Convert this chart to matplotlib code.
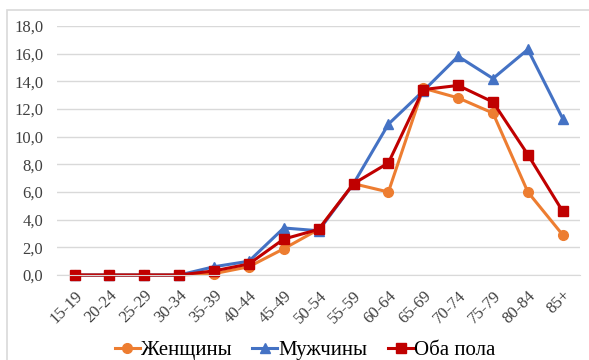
import matplotlib.pyplot as plt
from matplotlib.patches import Rectangle

plt.rcParams["font.family"] = ["Liberation Serif", "DejaVu Serif"]

ages = ["15-19", "20-24", "25-29", "30-34", "35-39", "40-44", "45-49", "50-54",
        "55-59", "60-64", "65-69", "70-74", "75-79", "80-84", "85+"]
women = [0, 0, 0, 0, 0.1, 0.6, 1.9, 3.3, 6.6, 6.0, 13.5, 12.8, 11.7, 6.0, 2.9]
men = [0, 0, 0, 0, 0.6, 1.0, 3.4, 3.2, 6.6, 10.9, 13.3, 15.8, 14.2, 16.3, 11.3]
both = [0, 0, 0, 0, 0.3, 0.8, 2.6, 3.3, 6.6, 8.1, 13.4, 13.7, 12.5, 8.7, 4.6]

fig = plt.figure(figsize=(5.89, 3.6), dpi=100)
ax = fig.add_axes([0.097, 0.236, 0.888, 0.692])

x = range(len(ages))
ax.plot(x, women, color="#ED7D31", lw=2.2, marker="o", ms=7, label="Женщины")
ax.plot(x, men, color="#4472C4", lw=2.2, marker="^", ms=7, label="Мужчины")
ax.plot(x, both, color="#C00000", lw=2.2, marker="s", ms=7, label="Оба пола")

ax.set_xlim(-0.5, len(ages) - 0.5)
ax.set_ylim(0, 18)
ax.set_yticks(range(0, 19, 2))
ax.set_yticklabels([f"{v:.1f}".replace(".", ",") for v in range(0, 19, 2)],
                   fontsize=12, color="#404040")
ax.set_xticks(list(x))
ax.set_xticklabels(ages, rotation=45, ha="right", rotation_mode="anchor",
                   fontsize=12, color="#404040")
ax.tick_params(axis="y", length=0, pad=10)
ax.tick_params(axis="x", length=0, pad=9)
ax.grid(axis="y", color="#d9d9d9", lw=1)
ax.set_axisbelow(True)
for s in ["top", "right", "left"]:
    ax.spines[s].set_visible(False)
ax.spines["bottom"].set_color("#d9d9d9")
for line in ax.lines:
    line.set_clip_on(False)

fig.legend(loc="center", bbox_to_anchor=(0.518, 0.027), ncol=3, frameon=False,
           fontsize=15, handlelength=1.2, handletextpad=0.05, columnspacing=1.0,
           borderpad=0)

# light frame around the chart area
fig.patches.append(Rectangle((0.012, -0.05), 1.1, 1.022, transform=fig.transFigure,
                             fill=False, edgecolor="#d9d9d9", lw=1.2))

fig.savefig("out.png", dpi=100)
